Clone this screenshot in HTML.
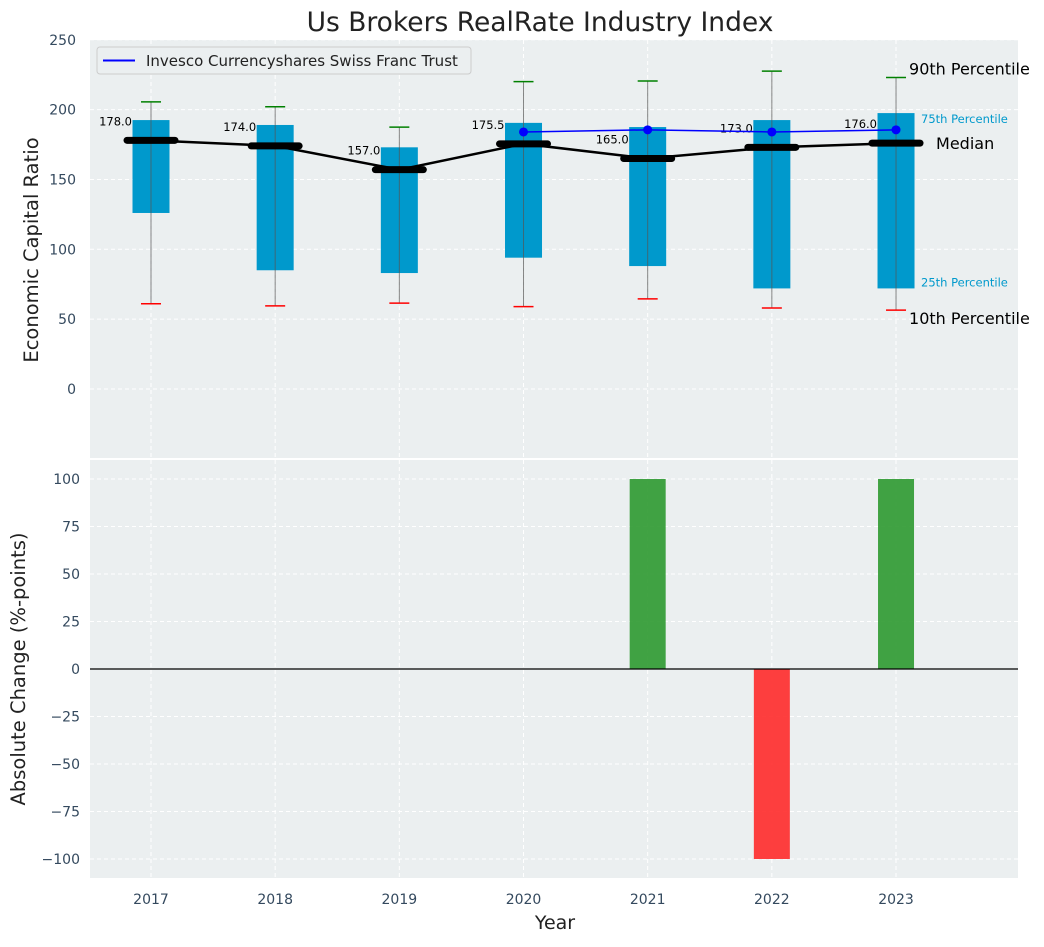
<!DOCTYPE html>
<html><head><meta charset="utf-8"><style>
body{margin:0;background:#fff;font-family:"Liberation Sans","DejaVu Sans",sans-serif}
svg text{font-family:"DejaVu Sans","Liberation Sans",sans-serif}
</style></head><body>
<svg id="c" width="1044" height="942" xmlns="http://www.w3.org/2000/svg"></svg>
<script>
const years=["2017","2018","2019","2020","2021","2022","2023"];
const p10=[61,59.5,61.5,59,64.5,58,56.5];
const p25=[126,85,83,94,88,72,72];
const medians=[178,174,157,175.5,165,173,176];
const p75=[192.5,189,173,190.5,187.5,192.5,197.5];
const p90=[205.5,202,187.5,220,220.5,227.5,223];
const trustYears=[3,4,5,6];
const trustVals=[184,185.5,184,185.5];
const changes=[0,0,0,0,100,-100,100];
const topTicks=[0,50,100,150,200,250];
const botTicks=[-100,-75,-50,-25,0,25,50,75,100];

const NS="http://www.w3.org/2000/svg",svg=document.getElementById('c');
function el(t,a,txt,p){const e=document.createElementNS(NS,t);for(const k in a)e.setAttribute(k,a[k]);if(txt!=null)e.textContent=txt;(p||svg).appendChild(e);return e;}
const X0=90,X1=1018;
const xs=i=>151+i*124.17;
const yT=v=>389-v*1.397;
const yB=v=>669-v*1.9;
let bg=el('rect',{x:X0,y:40,width:X1-X0,height:418,fill:'#ebeff0'});

let bg2=el('rect',{x:X0,y:460,width:X1-X0,height:418,fill:'#ebeff0'});

years.forEach((y,i)=>{
 el('line',{x1:xs(i),x2:xs(i),y1:40,y2:458,stroke:'#fff','stroke-dasharray':'4,3'});
 el('line',{x1:xs(i),x2:xs(i),y1:460,y2:878,stroke:'#fff','stroke-dasharray':'4,3'});
 const t=el('text',{x:xs(i),y:904,'text-anchor':'middle','font-size':14,fill:'#34495e'},y);
 
});
topTicks.forEach(v=>{
 el('line',{x1:X0,x2:X1,y1:yT(v),y2:yT(v),stroke:'#fff','stroke-dasharray':'4,3'});
 const t=el('text',{x:76,y:yT(v)+5,'text-anchor':'end','font-size':14,fill:'#34495e'},v);
 
});
botTicks.forEach(v=>{
 el('line',{x1:X0,x2:X1,y1:yB(v),y2:yB(v),stroke:'#fff','stroke-dasharray':'4,3'});
 const t=el('text',{x:80,y:yB(v)+5,'text-anchor':'end','font-size':14,fill:'#34495e'},v.toString().replace('-','\u2212'));
 
});
years.forEach((y,i)=>{
 const x=xs(i);
 const b=el('rect',{x:x-18.5,y:yT(p75[i]),width:37,height:yT(p25[i])-yT(p75[i]),fill:'#0099cc'});
 
 el('line',{x1:x,x2:x,y1:yT(p90[i]),y2:yT(p10[i]),stroke:'#555','stroke-width':1,opacity:0.7});
 el('line',{x1:x-10,x2:x+10,y1:yT(p90[i]),y2:yT(p90[i]),stroke:'green','stroke-width':1.5});
 el('line',{x1:x-10,x2:x+10,y1:yT(p10[i]),y2:yT(p10[i]),stroke:'red','stroke-width':1.5});
});
el('polyline',{points:medians.map((m,i)=>xs(i)+','+yT(m)).join(' '),fill:'none',stroke:'#000','stroke-width':2.5});
years.forEach((y,i)=>{
 const m=el('line',{x1:xs(i)-24,x2:xs(i)+24,y1:yT(medians[i]),y2:yT(medians[i]),stroke:'#000','stroke-width':7,'stroke-linecap':'round'});
 
 const t=el('text',{x:xs(i)-19,y:yT(medians[i])-15,'text-anchor':'end','font-size':11.5,fill:'#000'},medians[i].toFixed(1));
 
});
el('polyline',{points:trustVals.map((v,k)=>xs(trustYears[k])+','+yT(v)).join(' '),fill:'none',stroke:'blue','stroke-width':1.5});
trustVals.forEach((v,k)=>{const c=el('circle',{cx:xs(trustYears[k]),cy:yT(v),r:4.5,fill:'blue'});});
const L=6,xl=xs(L);
[['90th Percentile',xl+13,yT(p90[L])-3,16,'#000'],['75th Percentile',xl+25,yT(p75[L])+10,11.5,'#0099cc'],['Median',xl+40,yT(medians[L])+6,16,'#000'],['25th Percentile',xl+25,yT(p25[L])-2,11.5,'#0099cc'],['10th Percentile',xl+13,yT(p10[L])+14,16,'#000']].forEach(a=>{
 const t=el('text',{x:a[1],y:a[2],'font-size':a[3],fill:a[4]},a[0]);
});
const lg=el('g',{});
el('rect',{x:97,y:47,width:374,height:27,rx:3,fill:'#ebeff0',stroke:'#ccc'},null,lg);
el('line',{x1:103,x2:135,y1:60.5,y2:60.5,stroke:'blue','stroke-width':2},null,lg);
el('text',{x:146,y:66,'font-size':15,fill:'#222'},'Invesco Currencyshares Swiss Franc Trust',lg);
years.forEach((y,i)=>{
 const v=changes[i];if(v===0)return;
 const r=el('rect',{x:xs(i)-18,y:Math.min(yB(v),yB(0)),width:36,height:Math.abs(yB(v)-yB(0)),fill:v>0?'#2e9930':'#ff2a2a',opacity:0.9});
 
});
el('line',{x1:X0,x2:X1,y1:yB(0),y2:yB(0),stroke:'#000','stroke-width':1.2});
let t=el('text',{x:540,y:31,'text-anchor':'middle','font-size':26.5,fill:'#222'},'Us Brokers RealRate Industry Index');
t=el('text',{x:555,y:929,'text-anchor':'middle','font-size':19,fill:'#222'},'Year');
t=el('text',{x:38,y:250,'text-anchor':'middle','font-size':19.5,fill:'#222',transform:'rotate(-90 38 250)'},'Economic Capital Ratio');
t=el('text',{x:25,y:669,'text-anchor':'middle','font-size':19.5,fill:'#222',transform:'rotate(-90 25 669)'},'Absolute Change (%-points)');
</script>
</body></html>
